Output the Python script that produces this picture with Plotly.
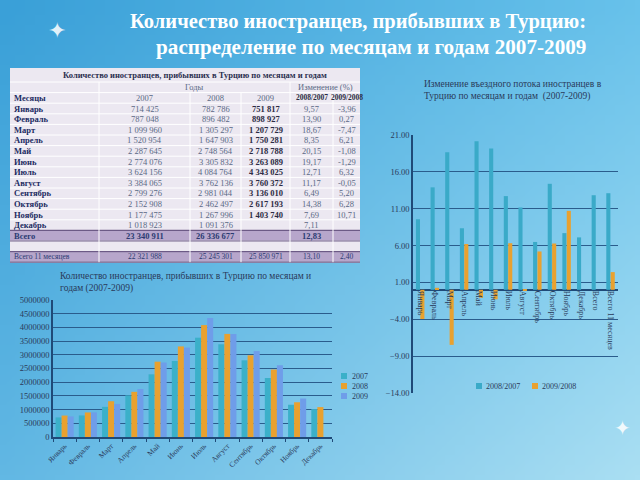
import base64, struct, zlib
import plotly.graph_objects as go

# ---------------- data ----------------
months = ["Январь", "Февраль", "Март", "Апрель", "Май", "Июнь", "Июль",
          "Август", "Сентябрь", "Октябрь", "Ноябрь", "Декабрь"]
v2007 = [714425, 787048, 1099960, 1520954, 2287645, 2774076, 3624156,
         3384065, 2799276, 2152908, 1177475, 1018923]
v2008 = [782786, 896482, 1305297, 1647903, 2748564, 3305832, 4084764,
         3762136, 2981044, 2462497, 1267996, 1091376]
v2009 = [751817, 898927, 1207729, 1750281, 2718788, 3263089, 4343025,
         3760372, 3136010, 2617193, 1403740, None]
ch0807 = [9.57, 13.90, 18.67, 8.35, 20.15, 19.17, 12.71, 11.17, 6.49, 14.38, 7.69, 7.11]
ch0908 = [-3.96, 0.27, -7.47, 6.21, -1.08, -1.29, 6.32, -0.05, 5.20, 6.28, 10.71, None]
total_label = "Всего"
total_vals = [23340911, 26336677, None, 12.83, None]
total11_label = "Всего 11 месяцев"
total11_vals = [22321988, 25245301, 25850971, 13.10, 2.40]
col_heads = ["Месяцы", "2007", "2008", "2009", "2008/2007", "2009/2008"]
year_names = ["2007", "2008", "2009"]
change_names = ["2008/2007", "2009/2008"]
change_cats = months + [total_label, total11_label]
change_a = ch0807 + [total_vals[3], total11_vals[3]]
change_b = ch0908 + [total_vals[4], total11_vals[4]]

W, H = 640, 480
def px(x): return x / W
def py(y): return 1 - y / H

serif = "Liberation Serif"

# ---------------- background gradient image ----------------
def make_png(w, h, func):
    raw = b""
    for j in range(h):
        row = b"\x00"
        for i in range(w):
            r, g, b = func(i / (w - 1), j / (h - 1))
            row += bytes((int(r), int(g), int(b)))
        raw += row
    def chunk(t, d):
        c = struct.pack(">I", len(d)) + t + d
        return c + struct.pack(">I", zlib.crc32(t + d) & 0xffffffff)
    png = b"\x89PNG\r\n\x1a\n" + chunk(b"IHDR", struct.pack(">IIBBBBB", w, h, 8, 2, 0, 0, 0))
    png += chunk(b"IDAT", zlib.compress(raw, 9)) + chunk(b"IEND", b"")
    return "data:image/png;base64," + base64.b64encode(png).decode()

TL, TR, BL, BR = (58, 160, 216), (104, 194, 235), (98, 184, 228), (170, 223, 243)
def grad(u, v):
    return tuple((1 - u) * (1 - v) * TL[k] + u * (1 - v) * TR[k] + (1 - u) * v * BL[k] + u * v * BR[k]
                 for k in range(3))
bg = make_png(64, 48, grad)

fig = go.Figure()
shapes, anns = [], []

# ---------------- table (drawn with shapes + text) ----------------
NB = "\u00a0"
def fnum(v):
    return "" if v is None else f"{v:,}".replace(",", NB)
def fpct(v):
    return "" if v is None else f"{v:.2f}".replace(".", ",")

col_x = [10, 99, 190, 241, 290, 333, 360]
t_top, title_h, row_h = 68, 14, 10.6
light, purple, lavline = "#ece8f1", "#b7a6cb", "#6c5a86"
navy, grey, dark = "#1d2c62", "#5b6a86", "#2c2c44"

rows = []
rows.append((list(col_heads), "head"))
for i, m in enumerate(months):
    rows.append(([m, fnum(v2007[i]), fnum(v2008[i]), fnum(v2009[i]), fpct(ch0807[i]), fpct(ch0908[i])], "data"))
rows.append(([total_label, fnum(total_vals[0]), fnum(total_vals[1]), fnum(total_vals[2]),
              fpct(total_vals[3]), fpct(total_vals[4])], "total"))
rows.append((["", "", "", "", "", ""], "blank"))
rows.append(([total11_label, fnum(total11_vals[0]), fnum(total11_vals[1]), fnum(total11_vals[2]),
              fpct(total11_vals[3]), fpct(total11_vals[4])], "total11"))

y_first = t_top + title_h + row_h
t_bottom = y_first + row_h * len(rows)

def pline(x0, x1, y0, y1, color, width):
    shapes.append(dict(type="line", xref="paper", yref="paper", x0=px(x0), x1=px(x1),
                       y0=py(y0), y1=py(y1), line=dict(color=color, width=width), layer="below"))

shapes.append(dict(type="rect", xref="paper", yref="paper", x0=px(col_x[0]), x1=px(col_x[-1]),
                   y0=py(t_bottom), y1=py(t_top), fillcolor=light, line=dict(width=0), layer="below"))
for r, (cells, kind) in enumerate(rows):
    y0 = y_first + r * row_h
    if kind in ("total", "total11"):
        shapes.append(dict(type="rect", xref="paper", yref="paper", x0=px(col_x[0]), x1=px(col_x[-1]),
                           y0=py(y0 + row_h), y1=py(y0), fillcolor=purple,
                           line=dict(width=0), layer="below"))
for r in range(len(rows) + 1):
    yy = y_first + r * row_h
    pline(col_x[0], col_x[-1], yy, yy, "#ffffff", 1)
pline(col_x[0], col_x[-1], t_top + title_h, t_top + title_h, "#ffffff", 1)
for r, (cells, kind) in enumerate(rows):
    if kind in ("total", "total11"):
        for yy in (y_first + r * row_h, y_first + (r + 1) * row_h):
            pline(col_x[0], col_x[-1], yy, yy, lavline, 1.2)
for k, xx in enumerate(col_x[1:-1], start=1):
    ytop = t_top + title_h if k in (1, 4) else y_first
    pline(xx, xx, t_bottom, ytop, "#ffffff", 1)

def cell_text(r, c, txt, kind):
    if not txt or kind == "blank":
        return
    if kind == "head":
        color = navy if c == 0 else (grey if c < 4 else dark)
        bold = c == 0 or c >= 4
        size = 8.5 if c < 4 else 7.5
    elif kind in ("total", "total11"):
        color = "#2b3b72"
        bold = kind == "total"
        size = 8.5 if kind == "total" else 7.5
    else:
        color = navy if c == 0 else (dark if c == 3 else grey)
        bold = c in (0, 3)
        size = 8.5
    t = f"<b>{txt}</b>" if bold else txt
    yc = y_first + r * row_h + row_h / 2
    if c == 0:
        x, xa = col_x[0] + 2, "left"
    else:
        x, xa = (col_x[c] + col_x[c + 1]) / 2, "center"
    anns.append(dict(xref="paper", yref="paper", x=px(x), y=py(yc), text=t, showarrow=False,
                     xanchor=xa, yanchor="middle", font=dict(family=serif, size=size, color=color)))

for r, (cells, kind) in enumerate(rows):
    for c, txt in enumerate(cells):
        cell_text(r, c, txt, kind)

table_heads = [
    ("<b>Количество иностранцев, прибывших в Турцию по месяцам и годам</b>", 195, t_top + title_h / 2, "#2c3050"),
    ("Годы", 194, t_top + title_h + row_h / 2, grey),
    ("Изменение (%)", 325, t_top + title_h + row_h / 2, grey),
]
for t, x, y, c in table_heads:
    anns.append(dict(xref="paper", yref="paper", x=px(x), y=py(y), text=t, showarrow=False,
                     xanchor="center", yanchor="middle", font=dict(family=serif, size=8.5, color=c)))

# ---------------- left grouped bar chart ----------------
cols3 = ["#3bb0c9", "#e9a12f", "#6f9de9"]
for name, vals, c in zip(year_names, [v2007, v2008, v2009], cols3):
    fig.add_trace(go.Bar(x=months, y=vals, name=name, marker=dict(color=c, line=dict(width=0)),
                         xaxis="x", yaxis="y", offsetgroup=name))

# ---------------- right change chart ----------------
cols2 = ["#3aaac8", "#e9a12f"]
for j, (name, vals, c) in enumerate(zip(change_names, [change_a, change_b], cols2)):
    fig.add_trace(go.Bar(x=change_cats, y=vals, name=name, marker=dict(color=c, line=dict(width=0)),
                         xaxis="x2", yaxis="y2", width=0.28, offset=-0.3 + j * 0.3))

axcol = "#1f4a78"
y2_lo, y2_hi = -14, 21
y2dom = [py(393), py(135)]
x2pos = y2dom[0] + (0 - y2_lo) / (y2_hi - y2_lo) * (y2dom[1] - y2dom[0])

# manual legends
for i, (name, c) in enumerate(zip(year_names, cols3)):
    yc = 376 + i * 10
    shapes.append(dict(type="rect", xref="paper", yref="paper", x0=px(341), x1=px(347),
                       y0=py(yc + 3), y1=py(yc - 3), fillcolor=c, line=dict(width=0)))
    anns.append(dict(xref="paper", yref="paper", x=px(350), y=py(yc), text=name, showarrow=False,
                     xanchor="left", yanchor="middle", font=dict(family=serif, size=8, color="#2a3a5a")))
for j, (name, c, x0) in enumerate(zip(change_names, cols2, [476, 532])):
    yc = 386
    shapes.append(dict(type="rect", xref="paper", yref="paper", x0=px(x0), x1=px(x0 + 6),
                       y0=py(yc + 3), y1=py(yc - 3), fillcolor=c, line=dict(width=0)))
    anns.append(dict(xref="paper", yref="paper", x=px(x0 + 8), y=py(yc), text=name, showarrow=False,
                     xanchor="left", yanchor="middle", font=dict(family=serif, size=8, color="#2a3a5a")))

# decorative sparkles
for x, y, s in [(57, 31, 22), (622, 428, 20)]:
    anns.append(dict(xref="paper", yref="paper", x=px(x), y=py(y), text="✦", showarrow=False,
                     xanchor="center", yanchor="middle", opacity=0.85,
                     font=dict(family="DejaVu Sans", size=s, color="#ffffff")))

fig.update_layout(
    width=W, height=H, margin=dict(l=0, r=0, t=0, b=0, autoexpand=False),
    paper_bgcolor="#6ab9e2", plot_bgcolor="rgba(0,0,0,0)",
    font=dict(family=serif, size=8, color="#2a3a5a"),
    barmode="group", bargap=0.22, bargroupgap=0.0, showlegend=False,
    images=[dict(source=bg, xref="paper", yref="paper", x=0, y=1, sizex=1, sizey=1,
                 sizing="stretch", layer="below")],
    xaxis=dict(domain=[px(53), px(332)], anchor="y", showline=True, linecolor=axcol, linewidth=1.5,
               tickangle=-45, tickfont=dict(size=7.5, color="#2a3a5a"), ticks="outside",
               tickson="boundaries", ticklen=3, tickcolor=axcol, showgrid=False, automargin=False),
    yaxis=dict(domain=[py(437), py(300)], anchor="x", range=[0, 5000000], dtick=500000,
               tickformat="d", showline=True, linecolor=axcol, linewidth=1.5,
               gridcolor="#2a5c8c", gridwidth=1, zeroline=False, automargin=False,
               tickfont=dict(size=8.5, color="#2a3a5a")),
    xaxis2=dict(domain=[px(413), px(618)], anchor="free", position=x2pos, showline=False,
                tickangle=90, tickfont=dict(size=8, color="#2a3a5a"), showgrid=False, ticks="",
                automargin=False),
    yaxis2=dict(domain=y2dom, anchor="x2", range=[y2_lo, y2_hi], tick0=-14, dtick=5,
                tickformat=".2f", showline=True, linecolor=axcol, linewidth=1.5, automargin=False,
                gridcolor="#2a5c8c", gridwidth=1, zeroline=True, zerolinecolor=axcol, zerolinewidth=1.5,
                tickfont=dict(size=8.5, color="#2a3a5a")),
)

titles = [
    ("<b>Количество иностранцев, прибывших в Турцию:</b>", 22, 20.5),
    ("<b>распределение по месяцам и годам 2007-2009</b>", 47, 21.2),
]
for t, y, s in titles:
    anns.append(dict(xref="paper", yref="paper", x=px(588), y=py(y), text=t, showarrow=False,
                     xanchor="right", yanchor="middle", font=dict(family=serif, size=s, color="#ffffff")))

chart_titles = [
    ("Количество иностранцев, прибывших в Турцию по месяцам и<br>годам (2007-2009)", 58, 282),
    ("Изменение въездного потока иностранцев в<br>Турцию по месяцам и годам  (2007-2009)", 422, 90),
]
for t, x, y in chart_titles:
    anns.append(dict(xref="paper", yref="paper", x=px(x), y=py(y), text=t, showarrow=False,
                     xanchor="left", yanchor="middle", align="left",
                     font=dict(family=serif, size=9.5, color="#2a3a5a")))

fig.update_layout(shapes=shapes, annotations=anns)
fig.write_html("out.html", config={"displayModeBar": False},
               post_script="document.body.style.margin='0';document.body.style.overflow='hidden';")
